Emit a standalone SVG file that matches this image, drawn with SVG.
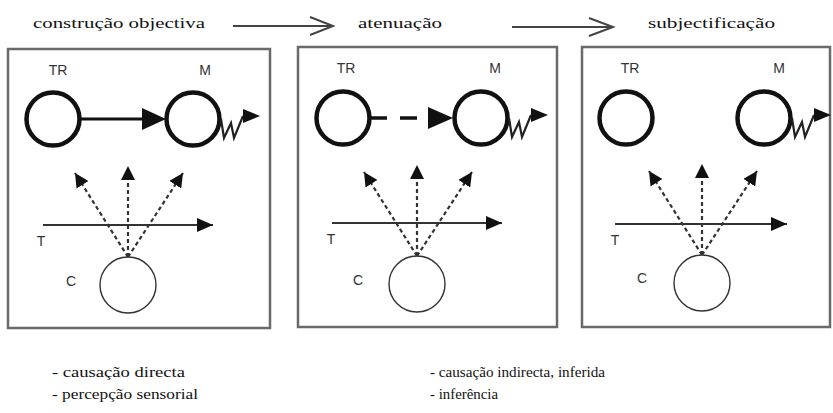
<svg xmlns="http://www.w3.org/2000/svg" width="833" height="413" viewBox="0 0 833 413">
  <style>
    .frame { fill: #fff; stroke: #6a6a6a; stroke-width: 2.5; }
    .thick { fill: none; stroke: #111; stroke-width: 4.5; }
    .thin { fill: none; stroke: #333; stroke-width: 1.4; }
    .ray { stroke: #333; stroke-width: 2.2; stroke-dasharray: 4 3; fill: none; }
    .axis { stroke: #333; stroke-width: 2; fill: none; }
    .head { fill: #111; stroke: none; }
    .lbl { font-family: "Liberation Sans", Arial, sans-serif; font-size: 14px; fill: #333; text-anchor: middle; dominant-baseline: central; }
    .cap { font-family: "Liberation Serif", "Times New Roman", serif; font-size: 14px; fill: #111; }
    .stage { fill: none; stroke: #444; stroke-width: 2; }
  </style>
  <defs>
    <marker id="tri" viewBox="0 0 14 14" refX="14" refY="7" markerWidth="14" markerHeight="14" markerUnits="userSpaceOnUse" orient="auto">
      <path d="M0,0 L14,7 L0,14 Z" fill="#111"/>
    </marker>
    <marker id="axhead" viewBox="0 0 16 14" refX="16" refY="7" markerWidth="16" markerHeight="14" markerUnits="userSpaceOnUse" orient="auto">
      <path d="M0,0 L16,7 L0,14 Z" fill="#111"/>
    </marker>
    <!-- wavy emission leaving the M circle -->
    <g id="wave">
      <polyline points="28,0 31,19 38,4 41,19 50,-3" fill="none" stroke="#222" stroke-width="2.2" stroke-linejoin="miter"/>
      <path d="M50,-10 L67,-3 L50,4 Z" fill="#111"/>
    </g>
    <!-- observer C with three dashed rays -->
    <g id="observer">
      <line class="ray" x1="0" y1="0" x2="-53" y2="-84" marker-end="url(#tri)"/>
      <line class="ray" x1="0" y1="0" x2="0" y2="-91" marker-end="url(#tri)"/>
      <line class="ray" x1="0" y1="0" x2="55" y2="-84" marker-end="url(#tri)"/>
      <circle class="thin" cx="0" cy="28" r="28"/>
    </g>
  </defs>

  <rect width="833" height="413" fill="#fff"/>

  <!-- stage headings -->
  <g id="headings">
    <text class="cap" x="33" y="28" textLength="172" lengthAdjust="spacingAndGlyphs">construção objectiva</text>
    <text class="cap" x="358" y="28" textLength="84" lengthAdjust="spacingAndGlyphs">atenuação</text>
    <text class="cap" x="648" y="28" textLength="127" lengthAdjust="spacingAndGlyphs">subjectificação</text>
  </g>

  <!-- panel 1: direct construction -->
  <g id="panel1">
    <rect class="frame" x="8" y="49" width="262" height="279"/>
    <text class="lbl" x="58" y="70">TR</text>
    <text class="lbl" x="205" y="70">M</text>
    <circle class="thick" cx="53" cy="119" r="26.5"/>
    <circle class="thick" cx="193" cy="119" r="26.5"/>
    <use href="#wave" x="193" y="119"/>
    <line class="axis" x1="43" y1="225" x2="213" y2="225" marker-end="url(#axhead)"/>
    <text class="lbl" x="41" y="241">T</text>
    <text class="lbl" x="71" y="281">C</text>
    <use href="#observer" x="128" y="257"/>
  </g>

  <!-- panel 2: attenuation -->
  <g id="panel2">
    <rect class="frame" x="298" y="47" width="259" height="280"/>
    <text class="lbl" x="346" y="68">TR</text>
    <text class="lbl" x="495" y="68">M</text>
    <circle class="thick" cx="343" cy="118" r="26.5"/>
    <circle class="thick" cx="481" cy="118" r="26.5"/>
    <use href="#wave" x="481" y="118"/>
    <line class="axis" x1="332" y1="223" x2="502" y2="223" marker-end="url(#axhead)"/>
    <text class="lbl" x="331" y="239">T</text>
    <text class="lbl" x="358" y="280">C</text>
    <use href="#observer" x="417" y="256"/>
  </g>

  <!-- panel 3: subjectification -->
  <g id="panel3">
    <rect class="frame" x="582" y="47" width="248" height="280"/>
    <text class="lbl" x="630" y="68">TR</text>
    <text class="lbl" x="779" y="68">M</text>
    <circle class="thick" cx="626" cy="118" r="26.5"/>
    <circle class="thick" cx="764" cy="118" r="26.5"/>
    <use href="#wave" x="764" y="118"/>
    <line class="axis" x1="615" y1="224" x2="787" y2="224" marker-end="url(#axhead)"/>
    <text class="lbl" x="615" y="240">T</text>
    <text class="lbl" x="642" y="278">C</text>
    <use href="#observer" x="702" y="255"/>
  </g>

  <!-- connectors -->
  <g id="connectors">
    <!-- heading transitions -->
    <line class="stage" x1="233" y1="26" x2="332" y2="26"/>
    <polyline class="stage" points="310,17 333,26 310,35"/>
    <line class="stage" x1="512" y1="27" x2="612" y2="27"/>
    <polyline class="stage" points="589,18 613,27 589,36"/>
    <!-- TR to M, solid -->
    <line x1="79" y1="119" x2="145" y2="119" stroke="#111" stroke-width="3"/>
    <path class="head" d="M142,108 L166,119 L142,130 Z"/>
    <!-- TR to M, dashed -->
    <line x1="369" y1="118" x2="417" y2="118" stroke="#111" stroke-width="3.5" stroke-dasharray="18 13"/>
    <path class="head" d="M428,107 L453,118 L428,129 Z"/>
  </g>

  <!-- notes -->
  <g id="notes">
    <text class="cap" x="52" y="377" textLength="133" lengthAdjust="spacingAndGlyphs">- causação directa</text>
    <text class="cap" x="52" y="399" textLength="146" lengthAdjust="spacingAndGlyphs">- percepção sensorial</text>
    <text class="cap" x="430" y="377" textLength="175" lengthAdjust="spacingAndGlyphs">- causação indirecta, inferida</text>
    <text class="cap" x="430" y="399" textLength="68" lengthAdjust="spacingAndGlyphs">- inferência</text>
  </g>
</svg>
